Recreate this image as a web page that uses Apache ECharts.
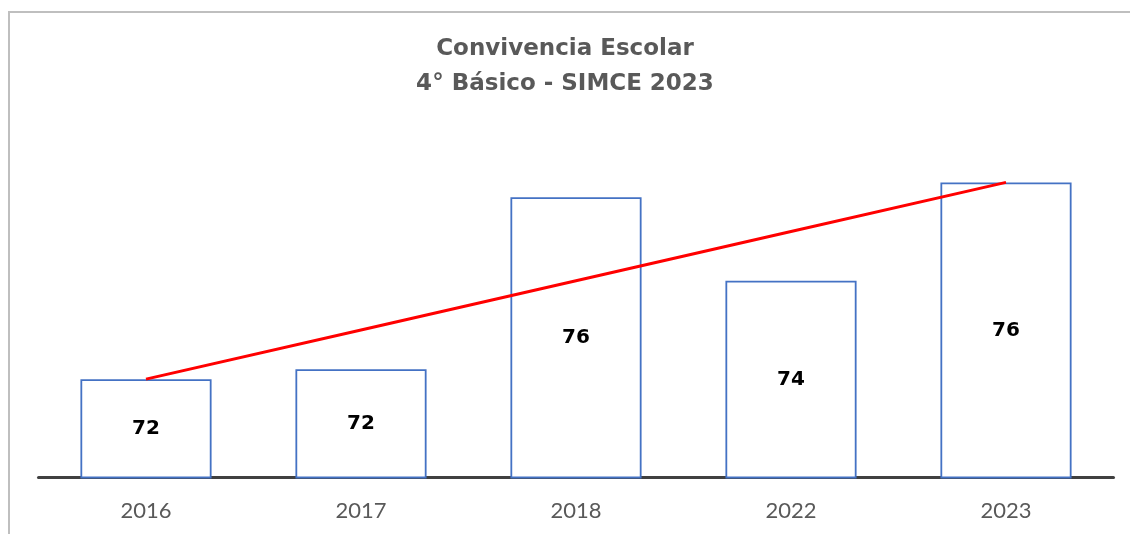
<!DOCTYPE html>
<html>
<head>
<meta charset="utf-8">
<script src="https://cdn.jsdelivr.net/npm/echarts@6/dist/echarts.min.js"></script>
<style>
  html, body { margin: 0; padding: 0; background: #fff; }
  #chart { width: 1130px; height: 534px; }
</style>
</head>
<body>
<div id="chart"></div>
<script>
// values
var years = ['2016', '2017', '2018', '2022', '2023'];
var scores = [72.0, 72.2, 75.7, 74.0, 76.0];
var trend = [72.0, 73.0, 74.0, 75.0, 76.0];

var chart = echarts.init(document.getElementById('chart'));
var option = {
    backgroundColor: '#fff',
    animation: false,
    title: {
        text: 'Convivencia Escolar\n4° Básico - SIMCE 2023',
        left: 'center',
        top: 27,
        textStyle: {
            color: '#595959',
            fontFamily: 'DejaVu Sans',
            fontWeight: 'bold',
            fontSize: 23,
            lineHeight: 35
        }
    },
    graphic: [{
        type: 'rect',
        shape: { x: 9, y: 12, width: 1200, height: 600 },
        style: { fill: 'none', stroke: '#bfbfbf', lineWidth: 2 },
        silent: true
    }],
    grid: {
        left: 38.5,
        right: 16.5,
        top: 84,
        bottom: 56.5
    },
    xAxis: {
        type: 'category',
        data: years,
        axisLine: { lineStyle: { color: '#404040', width: 3 } },
        axisTick: { show: false },
        axisLabel: {
            color: '#595959',
            fontFamily: 'Lato',
            fontSize: 22,
            margin: 22
        }
    },
    yAxis: {
        type: 'value',
        min: 70,
        max: 78,
        interval: 2,
        show: false,
        splitLine: { show: false }
    },
    series: [{
        name: 'Puntaje',
        type: 'bar',
        data: scores,
        barWidth: '61%',
        itemStyle: {
            color: '#fff',
            borderColor: '#4472c4',
            borderWidth: 1.8
        },
        label: {
            show: true,
            position: 'inside',
            color: '#000',
            fontFamily: 'DejaVu Sans',
            fontWeight: 'bold',
            fontSize: 20,
            formatter: function (p) { return Math.round(p.value); }
        }
    }, {
        name: 'Tendencia',
        type: 'line',
        data: trend,
        symbol: 'none',
        lineStyle: { color: '#ff0000', width: 3 },
        z: 5
    }]
};
chart.setOption(option);
</script>
</body>
</html>
